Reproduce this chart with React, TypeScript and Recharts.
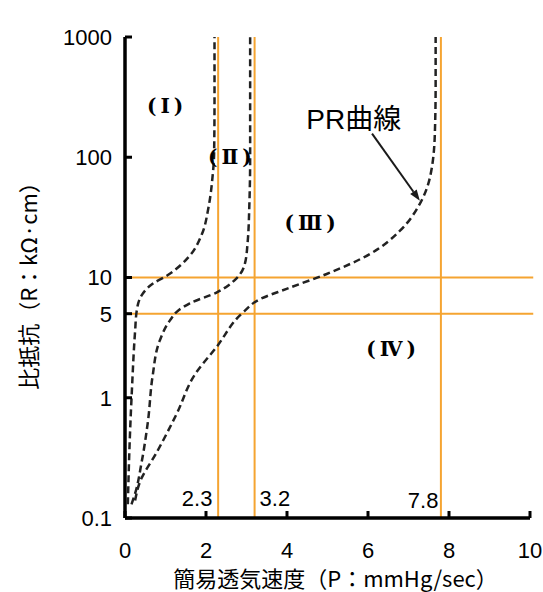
import { ComposedChart, Line, XAxis, YAxis, ReferenceLine, ReferenceDot } from 'recharts'

// curves: x = P (mmHg/sec), y = R (kΩ·cm)
const curveI = [
  { x: 0.07, y: 0.13 }, { x: 0.12, y: 0.47 }, { x: 0.17, y: 1.15 }, { x: 0.25, y: 3.6 },
  { x: 0.29, y: 5.3 }, { x: 0.41, y: 7.1 }, { x: 0.69, y: 8.9 }, { x: 1.04, y: 10.4 },
  { x: 1.6, y: 15.2 }, { x: 1.9, y: 23 }, { x: 2.06, y: 38 }, { x: 2.16, y: 68 },
  { x: 2.2, y: 107 }, { x: 2.21, y: 300 }, { x: 2.21, y: 1000 },
]
const curveII = [
  { x: 0.16, y: 0.13 }, { x: 0.25, y: 0.16 }, { x: 0.41, y: 0.29 }, { x: 0.57, y: 0.65 },
  { x: 0.68, y: 1.5 }, { x: 0.86, y: 3.0 }, { x: 1.11, y: 4.4 }, { x: 1.31, y: 5.3 },
  { x: 1.6, y: 6.1 }, { x: 2.26, y: 7.5 }, { x: 2.76, y: 9.9 }, { x: 2.96, y: 13 },
  { x: 3.03, y: 20 }, { x: 3.07, y: 40 }, { x: 3.09, y: 100 }, { x: 3.09, y: 1000 },
]
const prCurve = [
  { x: 0.25, y: 0.14 }, { x: 0.37, y: 0.2 }, { x: 0.78, y: 0.35 }, { x: 1.28, y: 0.74 },
  { x: 1.72, y: 1.55 }, { x: 2.26, y: 2.64 }, { x: 2.92, y: 5.15 }, { x: 3.33, y: 6.6 },
  { x: 3.99, y: 8.05 }, { x: 4.98, y: 10.7 }, { x: 6.05, y: 15.7 }, { x: 6.79, y: 24.5 },
  { x: 7.28, y: 41 }, { x: 7.53, y: 68 }, { x: 7.65, y: 155 }, { x: 7.67, y: 400 },
  { x: 7.67, y: 1000 },
]

const xTicks = [0, 2, 4, 6, 8, 10]
const yTicks = [0.1, 1, 5, 10, 100, 1000]
const pLimits = [2.3, 3.2, 7.8]
const rLimits = [10, 5]

const regionLabels = [
  { text: '(Ⅰ)', x: 1.04, y: 267 },
  { text: '(Ⅱ)', x: 2.64, y: 101 },
  { text: '(Ⅲ)', x: 4.62, y: 28.6 },
  { text: '(Ⅳ)', x: 6.62, y: 2.53 },
]
const limitLabels = [
  { text: '2.3', x: 1.78, y: 0.147 },
  { text: '3.2', x: 3.7, y: 0.145 },
  { text: '7.8', x: 7.36, y: 0.141 },
]
const prLabel = { text: 'PR曲線', x: 5.65, y: 209 }
const arrowFrom = { x: 6.1, y: 157 }
const arrowTo = { x: 7.28, y: 43.5 }

const ORANGE = '#F5A431'
const INK = '#1a1a1a'
const NUM_FONT = '"Liberation Sans", Arial, sans-serif'
const JP_FONT = '"Noto Sans CJK JP", sans-serif'

const Arrow = (props: any) => {
  const { x1, y1, x2, y2 } = props
  const ang = Math.atan2(y2 - y1, x2 - x1)
  const len = 11
  const w = 4
  const bx = x2 - len * Math.cos(ang)
  const by = y2 - len * Math.sin(ang)
  const pts = `${x2},${y2} ${bx + w * Math.sin(ang)},${by - w * Math.cos(ang)} ${bx - w * Math.sin(ang)},${by + w * Math.cos(ang)}`
  return (
    <g>
      <line x1={x1} y1={y1} x2={bx} y2={by} stroke={INK} strokeWidth={2} />
      <polygon points={pts} fill={INK} />
    </g>
  )
}

export default function App() {
  return (
    <div style={{ position: 'absolute', left: 0, top: 0, background: '#fff' }}>
      <ComposedChart width={543} height={592} margin={{ top: 37, right: 13, bottom: 0, left: 0 }}>
        {pLimits.map((p) => (
          <ReferenceLine key={`p${p}`} x={p} stroke={ORANGE} strokeWidth={2} />
        ))}
        {rLimits.map((r) => (
          <ReferenceLine
            key={`r${r}`}
            segment={[{ x: 0, y: r }, { x: 10.08, y: r }]}
            stroke={ORANGE}
            strokeWidth={2}
            ifOverflow="visible"
          />
        ))}

        <XAxis
          type="number"
          dataKey="x"
          domain={[0, 10]}
          ticks={xTicks}
          allowDataOverflow
          height={74}
          axisLine={{ stroke: '#000', strokeWidth: 3.5 }}
          tickLine={{ stroke: '#000', strokeWidth: 3 }}
          tickSize={-7}
          tickMargin={31}
          tick={{ fill: '#000', fontSize: 22, fontFamily: NUM_FONT }}
          label={(p: any) => (
            <text
              x={p.viewBox.x + p.viewBox.width / 2 + 8}
              y={p.viewBox.y + 69}
              textAnchor="middle"
              fontSize={22}
              fontFamily={JP_FONT}
              fill="#000"
            >
              簡易透気速度（P：mmHg/sec）
            </text>
          )}
        />
        <YAxis
          type="number"
          scale="log"
          domain={[0.1, 1000]}
          ticks={yTicks}
          allowDataOverflow
          width={125}
          axisLine={{ stroke: '#000', strokeWidth: 3.5 }}
          tickLine={{ stroke: '#000', strokeWidth: 3 }}
          tickSize={-7}
          tickMargin={20}
          tick={{ fill: '#000', fontSize: 22, fontFamily: NUM_FONT }}
          label={(p: any) => {
            const cx = p.viewBox.x + 27
            const cy = p.viewBox.y + p.viewBox.height / 2 + 3
            return (
              <text
                x={cx}
                y={cy}
                transform={`rotate(-90 ${cx} ${cy})`}
                textAnchor="middle"
                dominantBaseline="central"
                fontSize={22}
                fontFamily={JP_FONT}
                fill="#000"
              >
                比抵抗（R：kΩ·cm）
              </text>
            )
          }}
        />

        <Line data={curveI} dataKey="y" type="monotoneY" stroke="#222" strokeWidth={2.5} strokeDasharray="7 4" dot={false} isAnimationActive={false} />
        <Line data={curveII} dataKey="y" type="monotoneY" stroke="#222" strokeWidth={2.5} strokeDasharray="7 4" dot={false} isAnimationActive={false} />
        <Line data={prCurve} dataKey="y" type="monotoneY" stroke="#222" strokeWidth={2.5} strokeDasharray="7 4" dot={false} isAnimationActive={false} />

        <ReferenceLine
          segment={[arrowFrom, arrowTo]}
          shape={Arrow}
          ifOverflow="visible"
        />

        {regionLabels.map((l) => (
          <ReferenceDot
            key={l.text}
            x={l.x}
            y={l.y}
            r={0}
            fill="none"
            stroke="none"
            ifOverflow="visible"
            label={{
              value: l.text,
              position: 'center',
              fill: '#000',
              fontSize: 20,
              fontWeight: 'bold',
              letterSpacing: 4,
              fontFamily: '"DejaVu Serif", "Liberation Serif", serif',
            }}
          />
        ))}
        {limitLabels.map((l) => (
          <ReferenceDot
            key={l.text}
            x={l.x}
            y={l.y}
            r={0}
            fill="none"
            stroke="none"
            ifOverflow="visible"
            label={{ value: l.text, position: 'center', fill: '#000', fontSize: 22, fontFamily: NUM_FONT }}
          />
        ))}
        <ReferenceDot
          x={prLabel.x}
          y={prLabel.y}
          r={0}
          fill="none"
          stroke="none"
          ifOverflow="visible"
          label={{ value: prLabel.text, position: 'center', fill: '#000', fontSize: 28, fontFamily: `"Liberation Sans", ${JP_FONT}` }}
        />
      </ComposedChart>
    </div>
  )
}
